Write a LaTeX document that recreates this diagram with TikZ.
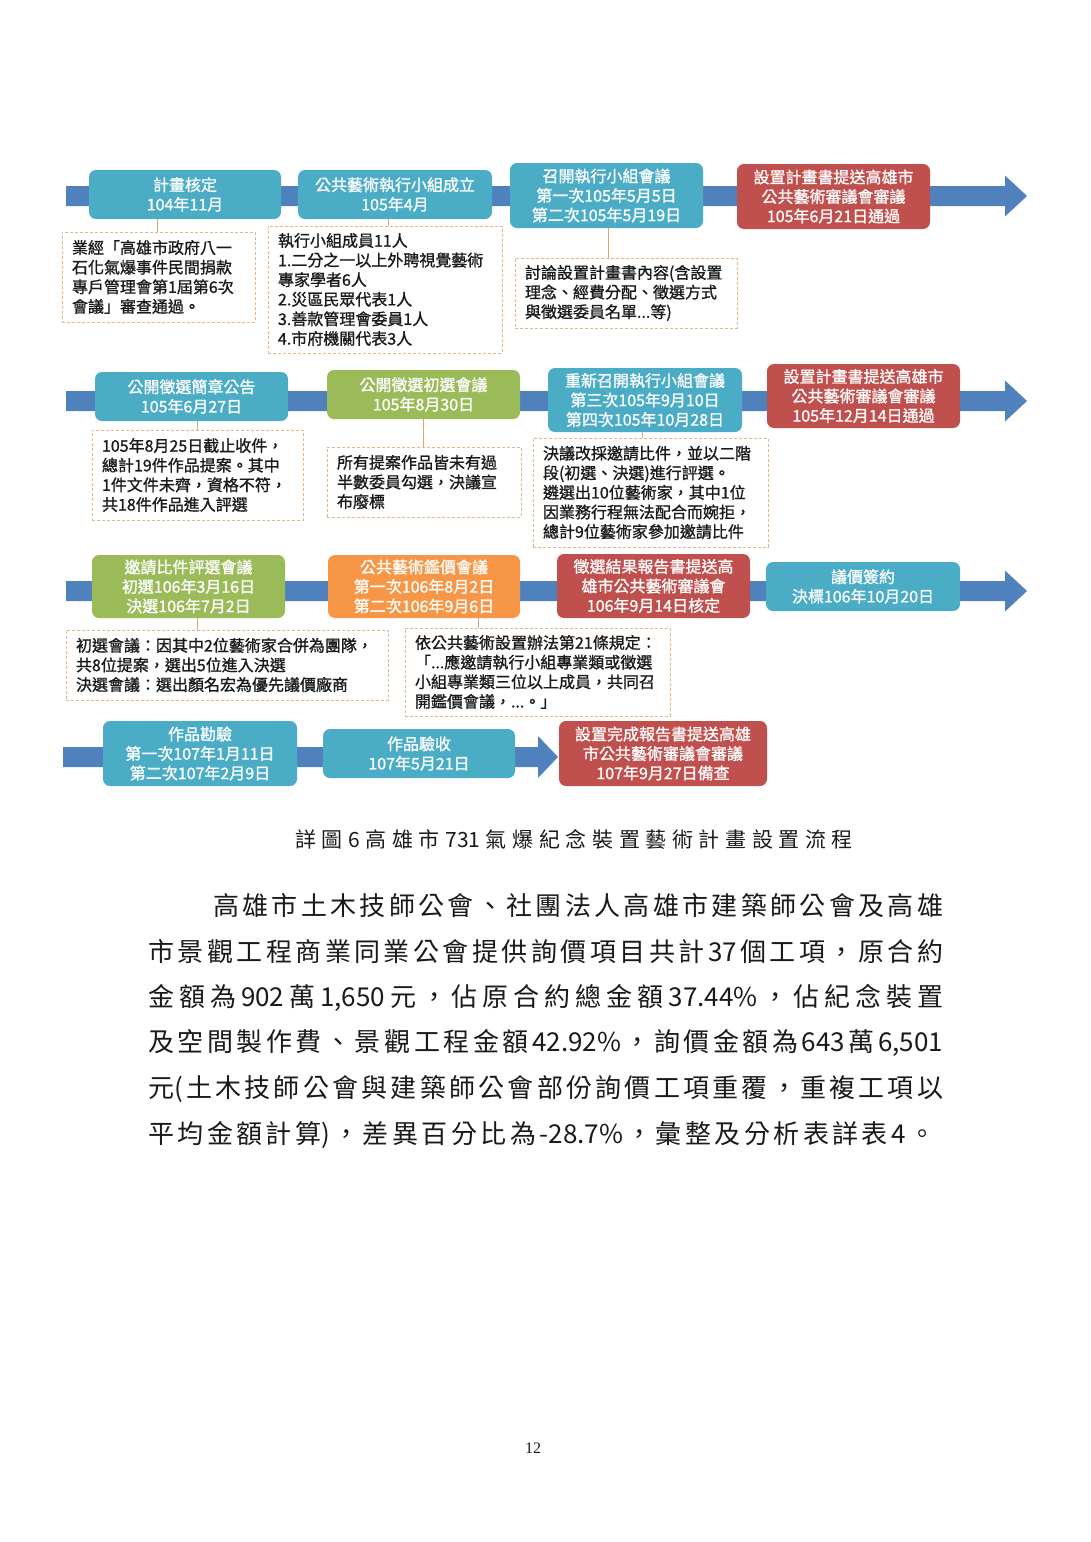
\documentclass[tikz,border=0pt]{standalone}
\usepackage{fontspec}
\setmainfont{Noto Sans CJK TC}
\newfontfamily\heavycjk[FakeBold=1.1]{Noto Sans CJK TC}
\newfontfamily\pagenumfont{Liberation Serif}
\definecolor{barblue}{HTML}{4F81BD}
\definecolor{tealbox}{HTML}{4BACC6}
\definecolor{redbox}{HTML}{C0504D}
\definecolor{greenbox}{HTML}{9BBB59}
\definecolor{orangebox}{HTML}{F79646}
\definecolor{notebd}{HTML}{E2B58A}
\definecolor{linktan}{HTML}{E0A46E}
\definecolor{bodytext}{HTML}{1A1A1A}
\makeatletter
\newcommand\spreadline[1]{\@tfor\sp@x:=#1\do{\sp@x\hfil}\unskip}
\makeatother

\begin{document}
\begin{tikzpicture}[x=1pt,y=-1pt,
  flowbox/.style={rounded corners=7pt, text=white, align=center, inner sep=0pt,
    font=\heavycjk\fontsize{16}{19.5}\selectfont},
  sz/.style 2 args={minimum width=#1, minimum height=#2},
  notebox/.style={draw=notebd, dash pattern=on 3pt off 2pt, line width=0.9pt,
    align=left, inner ysep=0pt, inner xsep=10pt, text=bodytext,
    font=\heavycjk\fontsize{16}{19.6}\selectfont},
  link/.style={draw=linktan, line width=0.9pt},
  bar/.style={fill=barblue},
  bodyline/.style={anchor=west, text=bodytext, inner sep=0pt,
    font=\fontsize{26}{30}\selectfont}]

\useasboundingbox[fill=white] (0,0) rectangle (1090,1542);

% ---------- bars ----------
\fill[bar] (66,186) -- (1005,186) -- (1005,175.5) -- (1027,196) -- (1005,216.5) -- (1005,206) -- (66,206) -- cycle;
\fill[bar] (66,391) -- (1005,391) -- (1005,380.5) -- (1027,401) -- (1005,421.5) -- (1005,411) -- (66,411) -- cycle;
\fill[bar] (66,581) -- (1005,581) -- (1005,570.5) -- (1027,591) -- (1005,611.5) -- (1005,601) -- (66,601) -- cycle;
\fill[bar] (63,747) -- (538,747) -- (538,736) -- (558,757) -- (538,778) -- (538,767) -- (63,767) -- cycle;

% ---------- row 1 ----------
\node[flowbox, fill=tealbox, sz={192pt}{49pt}] (b1) at (185,194.5) {計畫核定\\104年11月};
\node[flowbox, fill=tealbox, sz={194pt}{49pt}] (b2) at (395,194.5) {公共藝術執行小組成立\\105年4月};
\node[flowbox, fill=tealbox, sz={193pt}{65pt}] (b3) at (606.5,195.5) {召開執行小組會議\\第一次105年5月5日\\第二次105年5月19日};
\node[flowbox, fill=redbox, sz={193pt}{65pt}] (b4) at (833.5,196.5) {設置計畫書提送高雄市\\公共藝術審議會審議\\105年6月21日通過};

\node[notebox, text width=173pt, minimum height=90pt] (n1) at (158.5,277) {業經「高雄市政府八一\\石化氣爆事件民間捐款\\專戶管理會第1屆第6次\\會議」審查通過。};
\node[notebox, text width=214pt, minimum height=127pt] (n2) at (385,289.5) {執行小組成員11人\\1.二分之一以上外聘視覺藝術\\專家學者6人\\2.災區民眾代表1人\\3.善款管理會委員1人\\4.市府機關代表3人};
\node[notebox, text width=202pt, minimum height=70pt] (n3) at (626,293) {討論設置計畫書內容(含設置\\理念、經費分配、徵選方式\\與徵選委員名單...等)};

\coordinate (k1) at (157,0);
\coordinate (k2) at (388,0);
\coordinate (k3) at (608,0);
\draw[link] (b1.south -| k1) -- (n1.north -| k1);
\draw[link] (b2.south -| k2) -- (n2.north -| k2);
\draw[link] (b3.south -| k3) -- (n3.north -| k3);

% ---------- row 2 ----------
\node[flowbox, fill=tealbox, sz={193pt}{49pt}] (b5) at (191.5,396.5) {公開徵選簡章公告\\105年6月27日};
\node[flowbox, fill=greenbox, sz={193pt}{49pt}] (b6) at (423.5,394.5) {公開徵選初選會議\\105年8月30日};
\node[flowbox, fill=tealbox, sz={194pt}{64pt}] (b7) at (645,400) {重新召開執行小組會議\\第三次105年9月10日\\第四次105年10月28日};
\node[flowbox, fill=redbox, sz={193pt}{64pt}] (b8) at (863.5,396) {設置計畫書提送高雄市\\公共藝術審議會審議\\105年12月14日通過};

\node[notebox, text width=191pt, minimum height=90pt] (n4) at (197.5,475) {105年8月25日截止收件，\\總計19件作品提案。其中\\1件文件未齊，資格不符，\\共18件作品進入評選};
\node[notebox, text width=174pt, minimum height=70pt] (n5) at (424,482) {所有提案作品皆未有過\\半數委員勾選，決議宣\\布廢標};
\node[notebox, text width=215pt, minimum height=109pt] (n6) at (650.5,492.5) {決議改採邀請比件，並以二階\\段(初選、決選)進行評選。\\遴選出10位藝術家，其中1位\\因業務行程無法配合而婉拒，\\總計9位藝術家參加邀請比件};

\coordinate (k4) at (197,0);
\coordinate (k5) at (423,0);
\coordinate (k6) at (642,0);
\draw[link] (b5.south -| k4) -- (n4.north -| k4);
\draw[link] (b6.south -| k5) -- (n5.north -| k5);
\draw[link] (b7.south -| k6) -- (n6.north -| k6);

% ---------- row 3 ----------
\node[flowbox, fill=greenbox, sz={193pt}{63pt}] (b9) at (188.5,586.5) {邀請比件評選會議\\初選106年3月16日\\決選106年7月2日};
\node[flowbox, fill=orangebox, sz={192pt}{63pt}] (b10) at (424,586.5) {公共藝術鑑價會議\\第一次106年8月2日\\第二次106年9月6日};
\node[flowbox, fill=redbox, sz={193pt}{64pt}] (b11) at (653.5,586) {徵選結果報告書提送高\\雄市公共藝術審議會\\106年9月14日核定};
\node[flowbox, fill=tealbox, sz={194pt}{49pt}] (b12) at (863,586.5) {議價簽約\\決標106年10月20日};

\node[notebox, text width=302pt, minimum height=70pt] (n7) at (227,665) {初選會議：因其中2位藝術家合併為團隊，\\共8位提案，選出5位進入決選\\決選會議：選出顏名宏為優先議價廠商};
\node[notebox, text width=245pt, minimum height=88pt] (n8) at (537.5,672) {依公共藝術設置辦法第21條規定：\\「...應邀請執行小組專業類或徵選\\小組專業類三位以上成員，共同召\\開鑑價會議，...。」};

\coordinate (k7) at (197,0);
\coordinate (k8) at (478,0);
\draw[link] (b9.south -| k7) -- (n7.north -| k7);
\draw[link] (b10.south -| k8) -- (n8.north -| k8);

% ---------- row 4 ----------
\node[flowbox, fill=tealbox, sz={194pt}{65pt}] (b13) at (200,753.5) {作品勘驗\\第一次107年1月11日\\第二次107年2月9日};
\node[flowbox, fill=tealbox, sz={192pt}{49pt}] (b14) at (419,753.5) {作品驗收\\107年5月21日};
\node[flowbox, fill=redbox, sz={208pt}{65pt}] (b15) at (663,753.5) {設置完成報告書提送高雄\\市公共藝術審議會審議\\107年9月27日備查};

% ---------- caption ----------
\node[text=bodytext, inner sep=0pt, font=\fontsize{21}{24}\selectfont] (cap) at (574,840)
  {\hbox to 558pt{\spreadline{詳圖{6}高雄市{731}氣爆紀念裝置藝術計畫設置流程}}};

% ---------- paragraph ----------
\node[bodyline] (p1) at (213,906) {\hbox to 730pt{\spreadline{高雄市土木技師公會、社團法人高雄市建築師公會及高雄}}};
\node[bodyline] (p2) at (148,952) {\hbox to 795pt{\spreadline{市景觀工程商業同業公會提供詢價項目共計{37}個工項，原合約}}};
\node[bodyline] (p3) at (148,998) {\hbox to 795pt{\spreadline{金額為{902}萬{1,650}元，佔原合約總金額{37.44\%}，佔紀念裝置}}};
\node[bodyline] (p4) at (148,1043) {\hbox to 795pt{\spreadline{及空間製作費、景觀工程金額{42.92\%}，詢價金額為{643}萬{6,501}}}};
\node[bodyline] (p5) at (148,1089) {\hbox to 795pt{\spreadline{{元(}土木技師公會與建築師公會部份詢價工項重覆，重複工項以}}};
\node[bodyline] (p6) at (148,1135) {\hbox to 787pt{\spreadline{平均金額計{算)}，差異百分比為{-28.7\%}，彙整及分析表詳表{4}。}}};

% ---------- page number ----------
\node[text=bodytext, font=\pagenumfont\fontsize{16}{18}\selectfont] (pg) at (533,1448) {12};

\end{tikzpicture}
\end{document}
